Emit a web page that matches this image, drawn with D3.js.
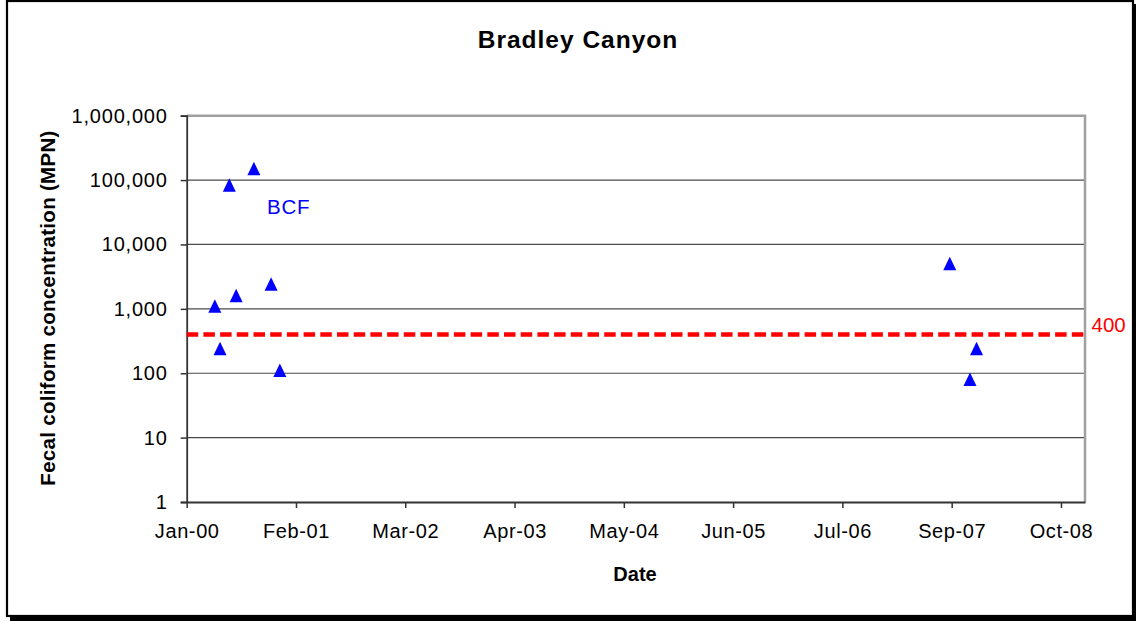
<!DOCTYPE html>
<html>
<head>
<meta charset="utf-8">
<script src="https://cdn.jsdelivr.net/npm/d3@7"></script>
<style>
  html, body { margin: 0; padding: 0; background: #fff; }
  svg { display: block; }
  text { font-family: "Liberation Sans", Arial, sans-serif; }
</style>
</head>
<body>
<svg id="chart" width="1136" height="621"></svg>
<script>
// ---- data ----
const title = "Bradley Canyon";
const seriesName = "BCF";
const sampleDates = ["2000-04-13", "2000-05-02", "2000-06-05", "2000-06-30", "2000-09-03",
                     "2000-11-05", "2000-12-07", "2007-08-25", "2007-11-07", "2007-12-01"];
const bcfValues = [1100, 240, 83000, 1600, 150000, 2400, 110, 5000, 80, 240];
const thresholdValue = 400;
const thresholdLabel = "400";
const xDomain = ["2000-01-01", "2009-01-01"];
const xTickDates = ["2000-01-01", "2001-02-04", "2002-03-11", "2003-04-15", "2004-05-19",
                    "2005-06-23", "2006-07-28", "2007-09-01", "2008-10-05"];
const xTickLabels = ["Jan-00", "Feb-01", "Mar-02", "Apr-03", "May-04", "Jun-05", "Jul-06", "Sep-07", "Oct-08"];
const yTickValues = [1, 10, 100, 1000, 10000, 100000, 1000000];
const yTickLabels = ["1", "10", "100", "1,000", "10,000", "100,000", "1,000,000"];
const xTitle = "Date";
const yTitle = "Fecal coliform concentration (MPN)";

// ---- layout ----
const svg = d3.select("#chart");
const plot = { left: 186.7, right: 1085, top: 115.7, bottom: 502 };
const parse = d3.utcParse("%Y-%m-%d");

const x = d3.scaleUtc().domain(xDomain.map(parse)).range([plot.left, plot.right]);
const y = d3.scaleLog().domain([1, 1000000]).range([plot.bottom, plot.top]);

// chart border with shadow
svg.append("rect").attr("x", 10).attr("y", 4).attr("width", 1126).attr("height", 617).attr("fill", "#000");
svg.append("rect").attr("x", 7).attr("y", 1).attr("width", 1126).attr("height", 615)
  .attr("fill", "#fff").attr("stroke", "#000").attr("stroke-width", 2.2);

// gridlines
svg.append("g").selectAll("line").data(yTickValues.slice(1, -1)).join("line")
  .attr("x1", plot.left).attr("x2", plot.right)
  .attr("y1", d => y(d)).attr("y2", d => y(d))
  .attr("stroke", "#4a4a4a").attr("stroke-width", 1.2);

// plot area top/right border
svg.append("path")
  .attr("d", `M${plot.left},${plot.top}H${plot.right}V${plot.bottom}`)
  .attr("fill", "none").attr("stroke", "#a0a0a0").attr("stroke-width", 2.5);

// y axis
const yAxis = d3.axisLeft(y).tickValues(yTickValues)
  .tickFormat((d, i) => yTickLabels[i]).tickSize(6).tickPadding(13);
const gy = svg.append("g").attr("transform", `translate(${plot.left},0)`).call(yAxis);
gy.select(".domain").attr("stroke", "#333").attr("stroke-width", 1.8);
gy.selectAll(".tick line").attr("stroke", "#333").attr("stroke-width", 1.5);
gy.selectAll(".tick text").attr("font-size", 20).attr("letter-spacing", 0.8).attr("fill", "#000")
  .attr("font-family", "Liberation Sans, Arial, sans-serif");

// x axis
const xAxis = d3.axisBottom(x).tickValues(xTickDates.map(parse))
  .tickFormat((d, i) => xTickLabels[i]).tickSize(6).tickSizeOuter(0).tickPadding(16);
const gx = svg.append("g").attr("transform", `translate(0,${plot.bottom})`).call(xAxis);
gx.select(".domain").attr("stroke", "#333").attr("stroke-width", 1.8);
gx.selectAll(".tick line").attr("stroke", "#333").attr("stroke-width", 1.5);
gx.selectAll(".tick text").attr("font-size", 20).attr("letter-spacing", 0.6).attr("fill", "#000")
  .attr("font-family", "Liberation Sans, Arial, sans-serif");

// threshold line
svg.append("line")
  .attr("x1", plot.left).attr("x2", plot.right)
  .attr("y1", y(thresholdValue)).attr("y2", y(thresholdValue))
  .attr("stroke", "#ff0000").attr("stroke-width", 4.5)
  .attr("stroke-dasharray", "11.5,5.2");
svg.append("text").attr("x", plot.right + 6.5).attr("y", y(thresholdValue) - 2.5)
  .attr("font-size", 20.5).attr("fill", "#ff0000").text(thresholdLabel);

// markers
const tri = "M0,-7L6.5,6.5L-6.5,6.5Z";
svg.append("g").selectAll("path").data(sampleDates.map((d, i) => ({ date: parse(d), v: bcfValues[i] })))
  .join("path")
  .attr("transform", d => `translate(${x(d.date)},${y(d.v)})`)
  .attr("d", tri).attr("fill", "#0000ff");

// series label
svg.append("text").attr("x", 267).attr("y", 214).attr("font-size", 20.5).attr("letter-spacing", 0.8)
  .attr("fill", "#0000ff").text(seriesName);

// titles
svg.append("text").attr("x", 578).attr("y", 47.5).attr("text-anchor", "middle")
  .attr("font-size", 24.5).attr("letter-spacing", 1).attr("font-weight", "bold").text(title);
svg.append("text").attr("x", 635).attr("y", 581).attr("text-anchor", "middle")
  .attr("font-size", 20).attr("font-weight", "bold").text(xTitle);
svg.append("text").attr("transform", "translate(55,308) rotate(-90)")
  .attr("text-anchor", "middle").attr("font-size", 20.5).attr("letter-spacing", 0.3)
  .attr("font-weight", "bold").text(yTitle);
</script>
</body>
</html>
